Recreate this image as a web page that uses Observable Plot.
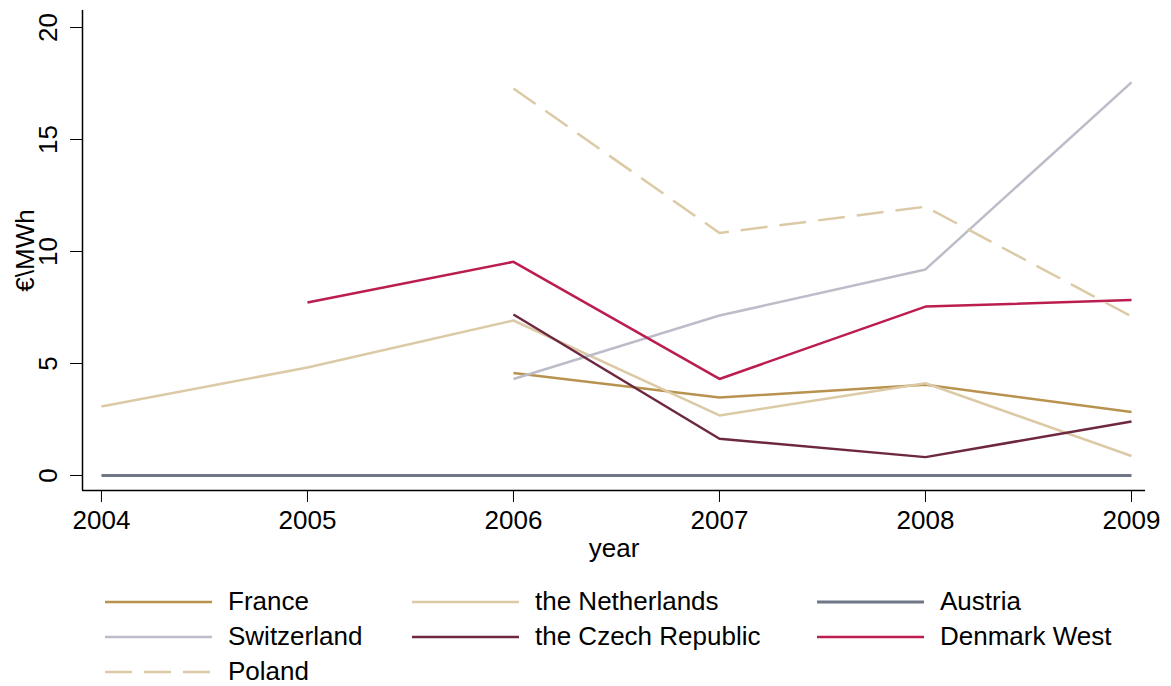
<!DOCTYPE html>
<html>
<head>
<meta charset="utf-8">
<script src="https://cdn.jsdelivr.net/npm/d3@7"></script>
<script src="https://cdn.jsdelivr.net/npm/@observablehq/plot@0.6"></script>
<style>
  body { margin: 0; background: #fff; font-family: "Liberation Sans", Arial, sans-serif; }
  #wrap { position: relative; width: 1171px; height: 686px; }
  #legend { position: absolute; left: 105px; top: 584px; display: grid;
    grid-template-columns: 307px 405px auto; grid-auto-rows: 35px; font-size: 26px; color: #000; }
  .item { display: flex; align-items: center; }
  .item svg { margin-right: 16px; }
</style>
</head>
<body>
<div id="wrap"><div id="chart"></div><div id="legend"></div></div>
<script>
const years = [2004, 2005, 2006, 2007, 2008, 2009];
const yTicks = [0, 5, 10, 15, 20];
const france      = [null, null, 4.58, 3.48, 4.05, 2.83];
const netherlands = [3.08, 4.82, 6.92, 2.68, 4.12, 0.87];
const austria     = [0, 0, 0, 0, 0, 0];
const switzerland = [null, null, 4.31, 7.14, 9.20, 17.55];
const czech       = [null, null, 7.19, 1.64, 0.82, 2.41];
const denmark     = [null, 7.72, 9.54, 4.31, 7.54, 7.83];
const poland      = [null, null, 17.28, 10.83, 12.00, 7.10];

const seriesNames = ["France", "the Netherlands", "Austria", "Switzerland", "the Czech Republic", "Denmark West", "Poland"];
const seriesValues = [france, netherlands, austria, switzerland, czech, denmark, poland];
const seriesColors = ["#b8924f", "#dccaa7", "#6f7787", "#bcbdc9", "#6d2840", "#bb1e4e", "#dccaa7"];
const seriesWidths = [2.5, 2.5, 3, 2.5, 2.5, 2.5, 2.5];
const seriesDash = [null, null, null, null, null, null, "27,12"];

const xDomain = [2003.908, 2009.068];
const yDomain = [-0.67, 20.76];

const lineMarks = seriesNames.map((name, i) => {
  const rows = years.map((yr, j) => ({year: yr, value: seriesValues[i][j]})).filter(d => d.value != null);
  return Plot.lineY(rows, {x: "year", y: "value", stroke: seriesColors[i], strokeWidth: seriesWidths[i],
    strokeDasharray: seriesDash[i] || undefined, strokeLinejoin: "miter", strokeLinecap: "butt"});
});

const chart = Plot.plot({
  width: 1171, height: 570,
  marginLeft: 82, marginRight: 26, marginTop: 10, marginBottom: 80,
  style: {fontSize: "26px", fontFamily: "'Liberation Sans', Arial, sans-serif", color: "#000", background: "#fff"},
  x: {domain: xDomain},
  y: {domain: yDomain},
  marks: [
    ...lineMarks,
    Plot.ruleX([xDomain[0]], {stroke: "#000", strokeWidth: 1.5}),
    Plot.ruleY([yDomain[0]], {stroke: "#000", strokeWidth: 1.5}),
    Plot.axisX({ticks: years, tickSize: 12, tickPadding: 8, tickFormat: d => String(d), label: null, stroke: "#000", fill: "#000"}),
    Plot.axisY({ticks: yTicks, tickSize: 12, tickFormat: () => "", label: null, stroke: "#000"}),
    Plot.text(yTicks, {x: xDomain[0], y: d => d, text: d => String(d), rotate: -90, dx: -34, textAnchor: "middle", lineAnchor: "middle", fill: "#000"}),
    Plot.text(["year"], {frameAnchor: "bottom", dy: 58, lineAnchor: "middle", fill: "#000"}),
    Plot.text(["€\\MWh"], {frameAnchor: "left", rotate: -90, dx: -57, lineAnchor: "middle", textAnchor: "middle", fill: "#000"})
  ]
});
document.getElementById("chart").appendChild(chart);

const legend = document.getElementById("legend");
seriesNames.forEach((name, i) => {
  const item = document.createElement("div");
  item.className = "item";
  const dash = seriesDash[i] ? ` stroke-dasharray="${seriesDash[i]}"` : "";
  item.innerHTML = `<svg width="107" height="10"><line x1="0" x2="107" y1="5" y2="5" stroke="${seriesColors[i]}" stroke-width="${seriesWidths[i]}"${dash}/></svg><span>${name}</span>`;
  legend.appendChild(item);
});
</script>
</body>
</html>
